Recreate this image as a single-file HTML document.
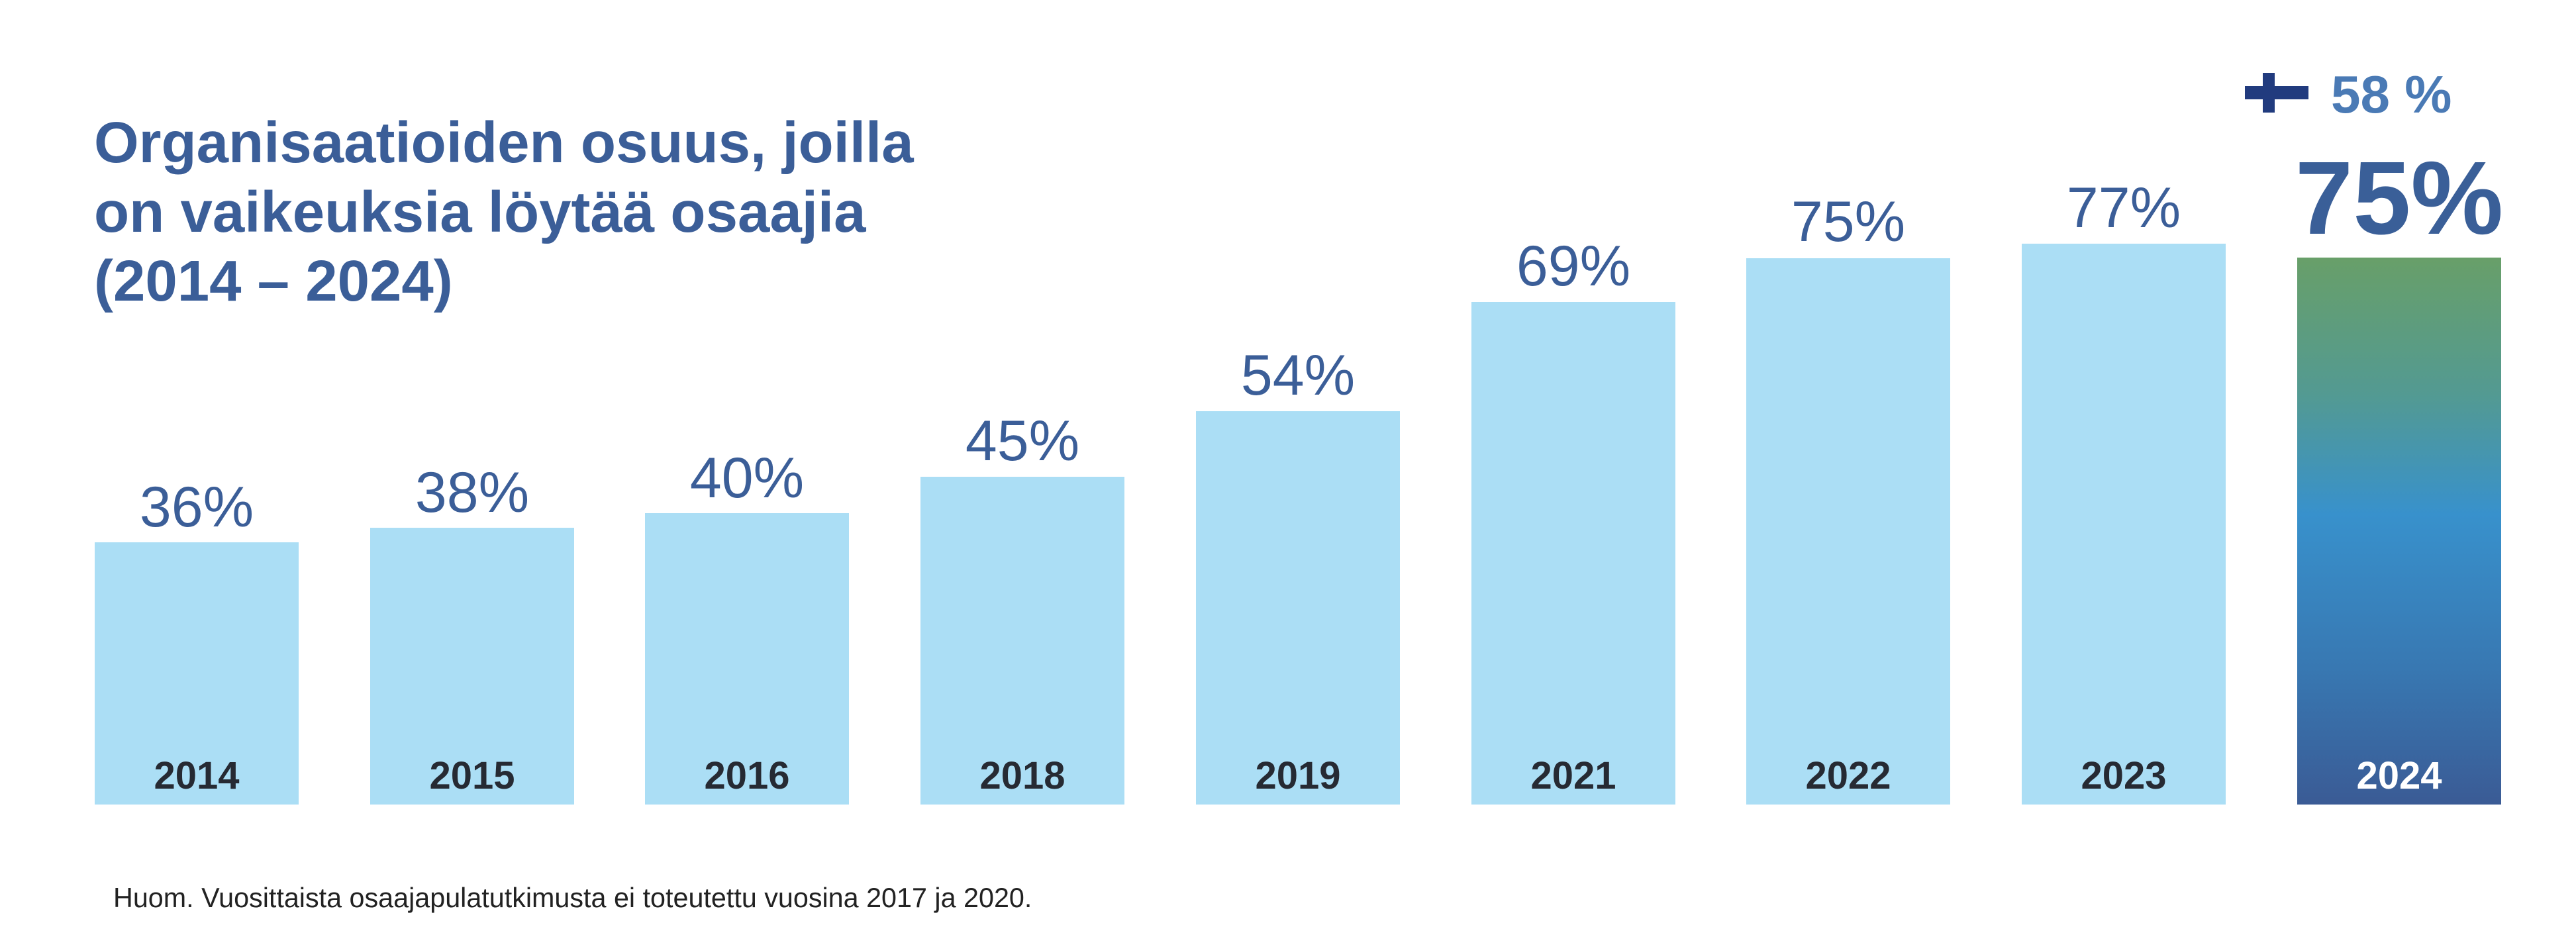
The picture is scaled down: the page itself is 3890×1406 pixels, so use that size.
<!DOCTYPE html>
<html>
<head>
<meta charset="utf-8">
<style>
  html, body { margin: 0; padding: 0; background: #ffffff; }
  body { width: 3890px; height: 1406px; overflow: hidden; }
  svg { display: block; }
  text { font-family: "Liberation Sans", Arial, sans-serif; }
</style>
</head>
<body>
<svg width="3890" height="1406" viewBox="0 0 3890 1406" xmlns="http://www.w3.org/2000/svg">
  <defs>
    <linearGradient id="g24" x1="0" y1="0" x2="0" y2="1">
      <stop offset="0" stop-color="#689f69"/>
      <stop offset="0.25" stop-color="#539a92"/>
      <stop offset="0.47" stop-color="#3891cc"/>
      <stop offset="0.75" stop-color="#3878b2"/>
      <stop offset="1" stop-color="#3a5b95"/>
    </linearGradient>
  </defs>
  <rect width="3890" height="1406" fill="#ffffff"/>

  <!-- Title -->
  <g fill="#3b5e98" font-weight="bold" font-size="87">
    <text x="142" y="245">Organisaatioiden osuus, joilla</text>
    <text x="142" y="350">on vaikeuksia löytää osaajia</text>
    <text x="142" y="454">(2014 – 2024)</text>
  </g>

  <!-- Bars -->
  <g fill="#abdef5">
    <rect x="143" y="819" width="308" height="396"/>
    <rect x="559" y="797" width="308" height="418"/>
    <rect x="974" y="775" width="308" height="440"/>
    <rect x="1390" y="720" width="308" height="495"/>
    <rect x="1806" y="621" width="308" height="594"/>
    <rect x="2222" y="456" width="308" height="759"/>
    <rect x="2637" y="390" width="308" height="825"/>
    <rect x="3053" y="368" width="308" height="847"/>
  </g>
  <rect x="3469" y="389" width="308" height="826" fill="url(#g24)"/>

  <!-- Value labels -->
  <g fill="#3b5e98" font-size="86" text-anchor="middle">
    <text x="297" y="795">36%</text>
    <text x="713" y="773">38%</text>
    <text x="1128" y="751">40%</text>
    <text x="1544" y="695">45%</text>
    <text x="1960" y="596">54%</text>
    <text x="2376" y="431">69%</text>
    <text x="2791" y="364">75%</text>
    <text x="3207" y="343">77%</text>
  </g>

  <!-- Year labels -->
  <g fill="#262a33" font-size="58" font-weight="bold" text-anchor="middle">
    <text x="297" y="1191">2014</text>
    <text x="713" y="1191">2015</text>
    <text x="1128" y="1191">2016</text>
    <text x="1544" y="1191">2018</text>
    <text x="1960" y="1191">2019</text>
    <text x="2376" y="1191">2021</text>
    <text x="2791" y="1191">2022</text>
    <text x="3207" y="1191">2023</text>
  </g>
  <text x="3623" y="1191" fill="#ffffff" font-size="58" font-weight="bold" text-anchor="middle">2024</text>

  <!-- 2024 big value -->
  <text x="3623" y="353" fill="#3a5f98" font-size="157" font-weight="bold" text-anchor="middle">75%</text>

  <!-- Finland flag cross + 58 % -->
  <g fill="#213b7e">
    <rect x="3390" y="130" width="96" height="20"/>
    <rect x="3417" y="110" width="18" height="60"/>
  </g>
  <text x="3520" y="170" fill="#4a7ab5" font-size="80" font-weight="bold">58 %</text>

  <!-- Footnote -->
  <text x="171" y="1370" fill="#222222" font-size="41.3">Huom. Vuosittaista osaajapulatutkimusta ei toteutettu vuosina 2017 ja 2020.</text>
</svg>
</body>
</html>
